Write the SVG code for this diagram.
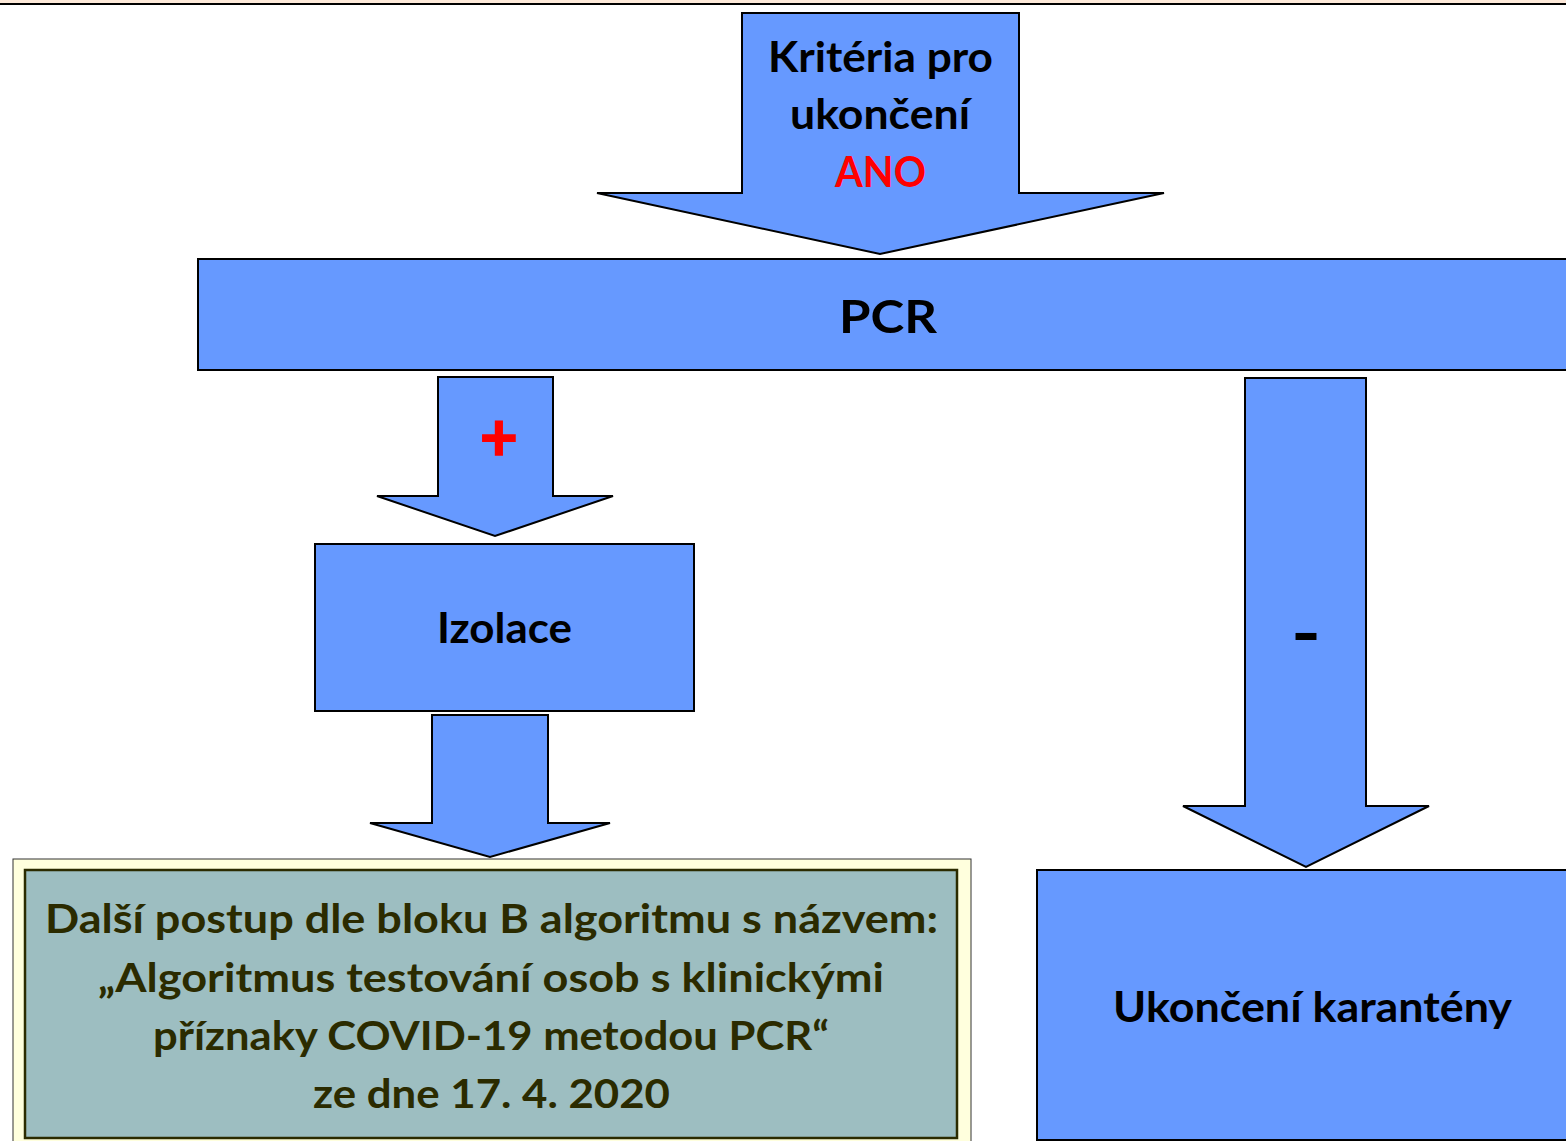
<svg xmlns="http://www.w3.org/2000/svg" width="1566" height="1141" viewBox="0 0 1566 1141">
<style>
.b{fill:#6699FF;stroke:#000;stroke-width:2}
.t{font-family:Lato,"Noto Sans","Liberation Sans",sans-serif;font-weight:bold;text-anchor:middle;fill:#000}
</style>
<rect x="0" y="0" width="1566" height="1141" fill="#fff"/>
<rect x="0" y="0" width="1566" height="3" fill="#FDE9D9"/>
<line x1="0" y1="4" x2="1566" y2="4" stroke="#000" stroke-width="2"/>
<g id="connectors">
<polygon class="b" points="742,13 1019,13 1019,193 1164,193 880,254 597,193 742,193"/>
<polygon class="b" points="438,377 553,377 553,496 613,496 495,536 377,496 438,496"/>
<polygon class="b" points="432,715 548,715 548,823 610,823 490,857 370,823 432,823"/>
<polygon class="b" points="1245,378 1366,378 1366,806 1429,806 1306,867 1183,806 1245,806"/>
<text class="t" x="880.5" y="72" font-size="42" textLength="225" lengthAdjust="spacingAndGlyphs">Kritéria pro</text>
<text class="t" x="880" y="129" font-size="42" textLength="180" lengthAdjust="spacingAndGlyphs">ukončení</text>
<text class="t" x="880.5" y="187" font-size="42" textLength="91" lengthAdjust="spacingAndGlyphs" style="fill:#FF0000">ANO</text>
<text class="t" x="499" y="461" font-size="66" style="fill:#FF0000;stroke:#FF0000;stroke-width:1.5">+</text>
<text class="t" x="1306" y="661" font-size="80" textLength="30" lengthAdjust="spacingAndGlyphs">–</text>
</g>
<g id="pcr">
<rect class="b" x="198" y="259" width="1380" height="111"/>
<text class="t" x="888" y="333" font-size="46" textLength="98" lengthAdjust="spacingAndGlyphs">PCR</text>
</g>
<g id="izolace">
<rect class="b" x="315" y="544" width="379" height="167"/>
<text class="t" x="504.5" y="643" font-size="42" textLength="135" lengthAdjust="spacingAndGlyphs">Izolace</text>
</g>
<g id="dalsi">
<rect x="13" y="859" width="958" height="290" fill="#FFFFDD" stroke="#333" stroke-width="1"/>
<rect x="25" y="870" width="932" height="268" fill="#9DBEC1" stroke="#2B2B00" stroke-width="2.5"/>
<g class="t" font-size="41" style="fill:#2B2B00">
<text x="491.5" y="933" textLength="893" lengthAdjust="spacingAndGlyphs">Další postup dle bloku B algoritmu s názvem:</text>
<text x="491" y="992" textLength="786" lengthAdjust="spacingAndGlyphs">„Algoritmus testování osob s klinickými</text>
<text x="491" y="1050" textLength="676" lengthAdjust="spacingAndGlyphs">příznaky COVID-19 metodou PCR“</text>
<text x="491.5" y="1108" textLength="357" lengthAdjust="spacingAndGlyphs">ze dne 17. 4. 2020</text>
</g>
</g>
<g id="ukonceni">
<rect class="b" x="1037" y="870" width="540" height="270"/>
<text class="t" x="1312.5" y="1022" font-size="42" textLength="399" lengthAdjust="spacingAndGlyphs">Ukončení karantény</text>
</g>
</svg>
